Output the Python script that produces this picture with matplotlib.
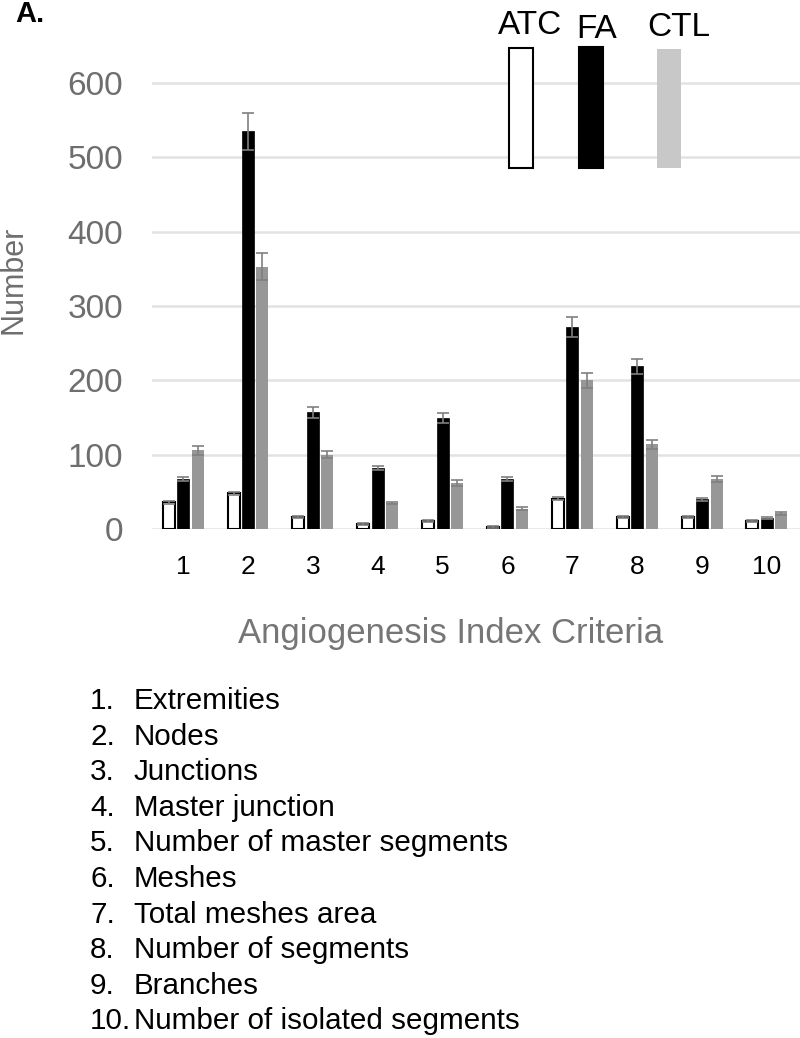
import numpy as np
import matplotlib.pyplot as plt
from matplotlib.patches import Rectangle

plt.rcParams['font.family'] = ['Liberation Sans', 'DejaVu Sans']

criteria = ['1', '2', '3', '4', '5', '6', '7', '8', '9', '10']
atc = [36, 48, 16, 7, 11, 3, 41, 16, 16, 11]
atc_err = [2, 2, 1, 1, 1, 1, 2, 1, 1, 1]
fa = [67, 535, 157, 82, 149, 67, 272, 219, 40, 15]
fa_err = [3, 25, 7, 3, 7, 3, 13, 10, 2, 1]
ctl = [106, 353, 100, 35, 62, 27, 200, 114, 67, 21]
ctl_err = [6, 18, 5, 2, 4, 2, 10, 6, 4, 2]
names = ['Extremities', 'Nodes', 'Junctions', 'Master junction',
         'Number of master segments', 'Meshes', 'Total meshes area',
         'Number of segments', 'Branches', 'Number of isolated segments']

W, H = 800, 1038
fig = plt.figure(figsize=(W / 100, H / 100), dpi=100)
ax = fig.add_axes([152 / W, (H - 529) / H, (W - 152) / W, 483 / H])

x = np.arange(1, len(criteria) + 1)
bw = 0.185
off = 0.223
ekw = dict(ecolor='#808080', elinewidth=1.2, capsize=4, capthick=1.2)
ax.bar(x - off, atc, bw, yerr=atc_err, color='white', edgecolor='black',
       linewidth=1.5, error_kw=ekw, zorder=3)
ax.bar(x, fa, bw, yerr=fa_err, color='black', edgecolor='black',
       linewidth=0.5, error_kw=ekw, zorder=3)
ax.bar(x + off, ctl, bw, yerr=ctl_err, color='#979797', edgecolor='none',
       error_kw=ekw, zorder=3)

ax.set_xlim(0.52, 10.51)
ax.set_ylim(0, 650)
ax.set_yticks(range(0, 601, 100))
ax.set_xticks(x)
ax.set_xticklabels(criteria)
ax.grid(axis='y', color='#e2e2e2', linewidth=1.8, zorder=0)
for s in ax.spines.values():
    s.set_visible(False)
ax.tick_params(axis='y', length=0, pad=21, labelsize=24, labelcolor='#6e6e6e')
ax.tick_params(axis='x', length=0, pad=19, labelsize=19, labelcolor='black')
fig.text(451 / W, 1 - 633 / H, 'Angiogenesis Index Criteria', fontsize=25,
         color='#767676', ha='center', va='center')
fig.text(14 / W, 1 - 280 / H, 'Number', rotation=90, fontsize=22, color='#6e6e6e',
         ha='center', va='center')

# legend drawn as tall swatches with labels above
leg = [('ATC', 509, 48, 'white', 'black', 530, 26),
       ('FA', 579, 47, 'black', 'black', 597, 30),
       ('CTL', 657, 49, '#c8c8c8', 'none', 679, 27)]
for lab, lx, ly, fc, ec, tx, ty in leg:
    fig.patches.append(Rectangle((lx / W, 1 - 168 / H), 24 / W, (168 - ly) / H,
                                 transform=fig.transFigure, facecolor=fc,
                                 edgecolor=ec, linewidth=1.5))
    fig.text(tx / W, 1 - ty / H, lab, fontsize=24, ha='center', va='center')

fig.text(15 / W, 1 - 14 / H, 'A.', fontsize=21, fontweight='bold', va='center')

for i, nm in enumerate(names):
    yy = 1 - (701 + i * 35.6) / H
    fig.text(90 / W, yy, '%d.' % (i + 1), fontsize=21.3, va='center')
    fig.text(134 / W, yy, nm, fontsize=21.3, va='center')

fig.savefig('out.png', dpi=100)
